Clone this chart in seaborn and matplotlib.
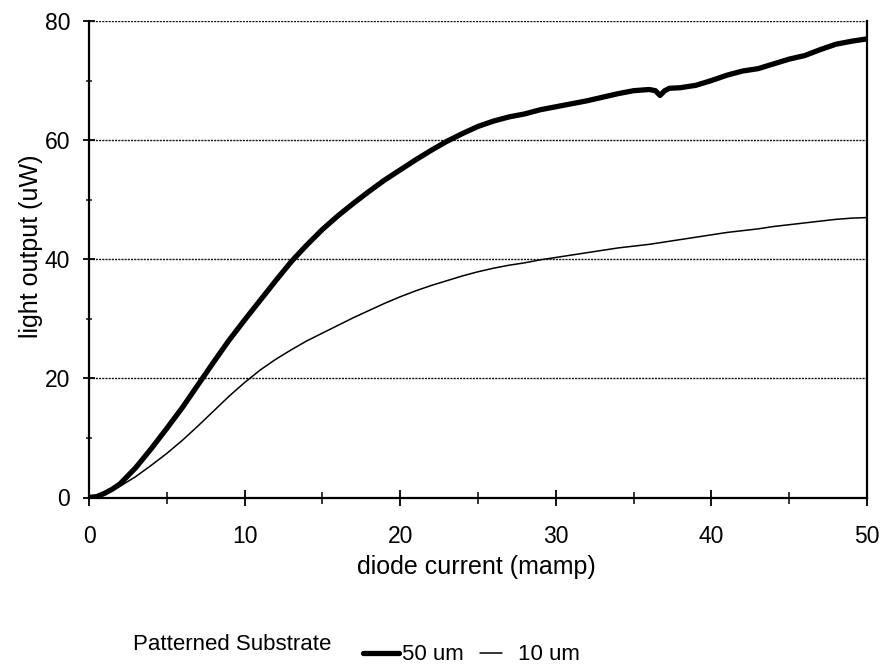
import matplotlib
matplotlib.use("Agg")
import matplotlib.pyplot as plt
from matplotlib.ticker import MultipleLocator
from matplotlib.lines import Line2D
import seaborn as sns
import pandas as pd

# Light output vs. diode current for two patterned-substrate sizes
current_50um = [0, 0.5, 1, 1.5, 2, 3, 4, 5, 6, 7, 8, 9, 10, 11, 12, 13, 14, 15,
                16, 17, 18, 19, 20, 21, 22, 23, 24, 25, 26, 27, 28, 29, 30, 31,
                32, 33, 34, 35, 36, 36.4, 36.7, 37.0, 37.3, 38, 39, 40, 41, 42,
                43, 44, 45, 46, 47, 48, 49, 50]
output_50um = [0.0, 0.15, 0.7, 1.4, 2.3, 5.0, 8.2, 11.6, 15.1, 18.9, 22.7,
               26.4, 29.8, 33.1, 36.4, 39.6, 42.4, 45.0, 47.3, 49.4, 51.4, 53.3,
               55.0, 56.7, 58.3, 59.8, 61.1, 62.3, 63.2, 63.9, 64.4, 65.1, 65.6,
               66.1, 66.6, 67.2, 67.8, 68.3, 68.5, 68.3, 67.5, 68.3, 68.7, 68.8,
               69.2, 70.0, 70.9, 71.6, 72.0, 72.8, 73.6, 74.2, 75.2, 76.1, 76.6,
               77.0]

current_10um = [0, 0.5, 1, 1.5, 2, 3, 4, 5, 6, 7, 8, 9, 10, 11, 12, 13, 14, 15,
                16, 17, 18, 19, 20, 21, 22, 23, 24, 25, 26, 27, 28, 29, 30, 31,
                32, 33, 34, 35, 36, 37, 38, 39, 40, 41, 42, 43, 44, 45, 46, 47,
                48, 49, 50]
output_10um = [0.0, 0.15, 0.6, 1.2, 1.9, 3.5, 5.4, 7.4, 9.6, 12.0, 14.5, 17.0,
               19.3, 21.4, 23.2, 24.8, 26.3, 27.6, 28.9, 30.2, 31.4, 32.6, 33.7,
               34.7, 35.6, 36.4, 37.2, 37.9, 38.5, 39.0, 39.4, 39.9, 40.3, 40.7,
               41.1, 41.5, 41.9, 42.2, 42.5, 42.9, 43.3, 43.7, 44.1, 44.5, 44.8,
               45.1, 45.5, 45.8, 46.1, 46.4, 46.7, 46.9, 47.0]

series_labels = ["50 um", "10 um"]
x_ticks = [0, 10, 20, 30, 40, 50]
y_ticks = [0, 20, 40, 60, 80]

df50 = pd.DataFrame({"current": current_50um, "output": output_50um})
df10 = pd.DataFrame({"current": current_10um, "output": output_10um})

sns.set_theme(style="white")
plt.rcParams["font.family"] = ["Liberation Sans", "DejaVu Sans"]
plt.rcParams["text.color"] = "black"
plt.rcParams["axes.labelcolor"] = "black"

fig = plt.figure(figsize=(8.81, 6.70), dpi=100)
ax = fig.add_axes([89 / 881, 1 - 497.5 / 670, (867 - 89) / 881, (497.5 - 21) / 670])

# horizontal dotted gridlines at the labelled levels
for yv in y_ticks[1:]:
    ax.axhline(yv, color="#111111", lw=1.0, ls=(0, (1.5, 0.8)), zorder=1)

sns.lineplot(data=df50, x="current", y="output", ax=ax, color="black",
             lw=3.8, sort=False, estimator=None, zorder=3)
sns.lineplot(data=df10, x="current", y="output", ax=ax, color="black",
             lw=1.1, sort=False, estimator=None, zorder=3)

ax.set_xlim(0, 50)
ax.set_ylim(0, 80)
ax.set_xticks(x_ticks)
ax.set_yticks(y_ticks)
ax.xaxis.set_minor_locator(MultipleLocator(5))
ax.yaxis.set_minor_locator(MultipleLocator(10))

for side in ["left", "bottom", "right"]:
    ax.spines[side].set_visible(True)
    ax.spines[side].set_color("black")
    ax.spines[side].set_linewidth(1.6)
ax.spines["top"].set_visible(False)

ax.tick_params(axis="x", which="major", direction="inout", length=11, width=1.3,
               pad=14, labelsize=16.5, colors="black", bottom=True)
ax.tick_params(axis="x", which="minor", direction="inout", length=8, width=1.3,
               bottom=True)
ax.tick_params(axis="y", which="major", direction="inout", length=9, width=1.3,
               pad=9, labelsize=16.5, colors="black", left=True)
ax.tick_params(axis="y", which="minor", direction="inout", length=5, width=1.2,
               left=True)

ax.set_xlabel("diode current (mamp)", fontsize=18, color="black")
ax.set_ylabel("light output (uW)", fontsize=18, color="black")
ax.xaxis.set_label_coords((476 - 89) / 778, -(555 - 497.5) / 476.5)
ax.yaxis.set_label_coords((43 - 89) / 778, (497.5 - 246) / 476.5)

# legend row below the plot
fig.text(133 / 881, 1 - 645 / 670, "Patterned Substrate", fontsize=16,
         ha="left", va="center", color="black")
h50 = Line2D([], [], color="black", lw=3.8)
h10 = Line2D([], [], color="black", lw=1.1)
fig.legend([h50], [series_labels[0]], loc="center left",
           bbox_to_anchor=(363 / 881, 1 - 655 / 670), frameon=False,
           fontsize=16, handlelength=1.6, handletextpad=0.15,
           borderaxespad=0, borderpad=0, labelcolor="black")
fig.legend([h10], [series_labels[1]], loc="center left",
           bbox_to_anchor=(480 / 881, 1 - 655 / 670), frameon=False,
           fontsize=16, handlelength=1.0, handletextpad=0.7,
           borderaxespad=0, borderpad=0, labelcolor="black")

fig.savefig("out.png", dpi=100, facecolor="white")
